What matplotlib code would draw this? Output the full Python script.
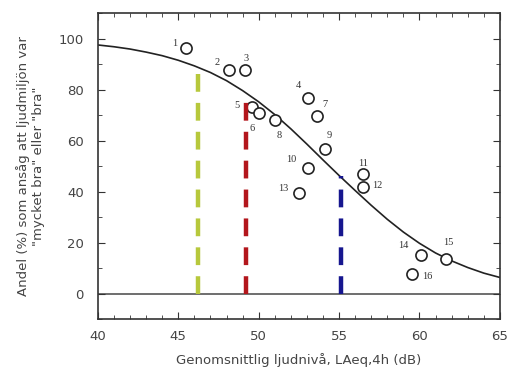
import matplotlib.pyplot as plt
from matplotlib.ticker import MultipleLocator

# Survey points (sound level dB, share % "mycket bra"/"bra")
point_ids = [str(i) for i in range(1, 17)]
levels = [45.5, 48.15, 49.15, 53.05, 49.6, 50.0, 53.6, 51.0,
          54.1, 53.05, 56.5, 56.5, 52.5, 60.1, 61.65, 59.55]
shares = [96.5, 87.8, 87.8, 76.5, 73.3, 71.0, 69.8, 68.2,
          56.5, 49.4, 46.7, 41.6, 39.6, 15.3, 13.7, 7.5]

# Fitted curve at every dB
curve_x = list(range(40, 66))
curve_y = [97.5, 96.8, 95.9, 94.7, 93.3, 91.5, 89.3, 86.7, 83.5, 79.6,
           75.2, 70.2, 64.6, 58.6, 52.4, 46.3, 40.4, 34.6, 29.1, 24.1,
           19.7, 15.9, 12.8, 10.2, 8.0, 6.3]

# Dashed markers: level and top value
mark_levels = [46.2, 49.2, 55.1]
mark_tops = [88.6, 76.5, 46.0]
mark_colors = ["#b7c83c", "#b3161c", "#16168f"]

# pixel offsets for the numbers next to each circle
label_offsets = [(-12, 4), (-12, 7), (1, 11), (-9, 13), (-15, 1), (-7, -16),
                 (8, 11), (4, -16), (5, 14), (-16, 8), (0, 11), (14, 2),
                 (-16, 4), (-18, 9), (2, 16), (15, -2)]

fig = plt.figure(figsize=(5.07, 3.74), dpi=100)
ax = fig.add_axes([0.193, 0.147, 0.793, 0.818])

ax.axhline(0, color="#555555", lw=1.2, zorder=1)
ax.plot(curve_x, curve_y, color="#222222", lw=1.2, zorder=2)

ax.plot(levels, shares, "o", ms=8, mfc="white", mec="#222222", mew=1.2, zorder=3)
for pid, x, y, off in zip(point_ids, levels, shares, label_offsets):
    ax.annotate(pid, (x, y), xytext=off, textcoords="offset pixels",
                ha="center", va="center", fontsize=7.5, family="Liberation Serif",
                color="#333333", zorder=5)

for lv, top, c in zip(mark_levels, mark_tops, mark_colors):
    ax.plot([lv, lv], [0, top], color=c, lw=3.2, dashes=(4, 2.5), zorder=4)

ax.set_xlim(40, 65)
ax.set_ylim(-10, 110)
ax.set_xticks([40, 45, 50, 55, 60, 65])
ax.set_yticks([0, 20, 40, 60, 80, 100])
ax.xaxis.set_minor_locator(MultipleLocator(1))
ax.yaxis.set_minor_locator(MultipleLocator(10))
ax.tick_params(which="both", direction="in", top=True, right=True,
               labelsize=9.5, labelcolor="#444444", color="#333333")
ax.tick_params(which="major", length=5)
ax.tick_params(which="minor", length=3)
ax.tick_params(axis="x", which="major", pad=8)
ax.tick_params(axis="y", which="major", pad=10)
for s in ax.spines.values():
    s.set_color("#333333")
    s.set_linewidth(1.2)

ax.set_xlabel("Genomsnittlig ljudnivå, LAeq,4h (dB)", fontsize=9.5,
              color="#444444", labelpad=7)
ylab = ax.set_ylabel('Andel (%) som ansåg att ljudmiljön var\n"mycket bra" eller "bra"',
                     fontsize=9.5, color="#444444", labelpad=10)
ylab.set_linespacing(1.2)

fig.savefig("out.png", dpi=100)
